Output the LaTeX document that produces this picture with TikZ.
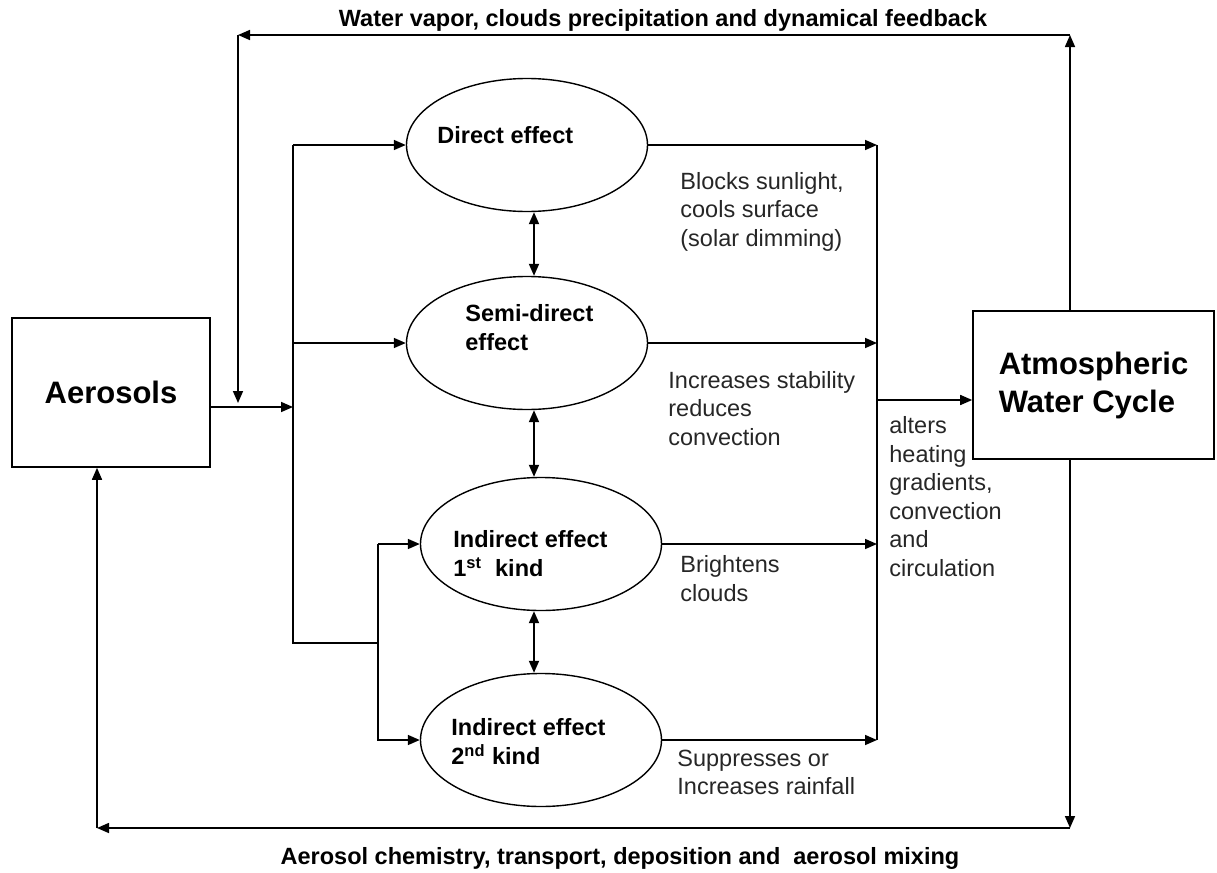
\documentclass[tikz,border=0pt]{standalone}
\usepackage{fontspec}
\setmainfont{Liberation Sans}
\usetikzlibrary{arrows.meta,positioning,shapes.geometric}

\begin{document}
\begin{tikzpicture}[
    x=0.5pt, y=-0.5pt,
    font=\fontsize{11.75}{14.25}\selectfont,
    box/.style={draw, line width=0.8pt, align=left, inner sep=0pt, font=\fontsize{15.5}{19}\selectfont\bfseries},
    effect/.style={ellipse, draw, line width=0.7pt, minimum width=120.5pt, minimum height=66.5pt, inner sep=0pt},
    efflabel/.style={anchor=west, align=left, inner sep=0pt, font=\fontsize{11.75}{14.5}\selectfont\bfseries},
    note/.style={anchor=west, align=left, inner sep=0pt, text=black!85},
    title/.style={inner sep=0pt, font=\fontsize{11.75}{14}\selectfont\bfseries},
    arrow/.style={-{Triangle[length=6pt,width=5pt]}, line width=0.8pt},
    dblarrow/.style={{Triangle[length=6pt,width=5pt]}-{Triangle[length=6pt,width=5pt]}, line width=0.9pt},
    line/.style={line width=0.8pt}
]
\useasboundingbox (0,0) rectangle (1217,873);

% boxes
\node[box, minimum width=99pt, minimum height=74.5pt] (aero) at (111,392.5) {Aerosols};
\node[box, minimum width=120.5pt, minimum height=74pt] (atm) at (1093.5,385) {Atmospheric\\Water Cycle};

% the four effects
\node[effect] (direct) at (527,145) {};
\node[effect] (semi) at (527,343) {};
\node[effect] (indone) at (541,544) {};
\node[effect] (indtwo) at (541,740) {};
\node[efflabel] (directlbl) at (437,135) {Direct effect};
\node[efflabel] (semilbl) at (465,327.5) {Semi-direct\\effect};
\node[efflabel] (indonelbl) at (453,554) {Indirect effect\\1\textsuperscript{st}\ \ kind};
\node[efflabel] (indtwolbl) at (451,742) {Indirect effect\\2\textsuperscript{nd} kind};

% what each effect does
\node[note] (blocks) at (680,211.5) {Blocks sunlight,\\cools surface\\(solar dimming)};
\node[note] (stab) at (668,408.5) {Increases stability\\reduces\\convection};
\node[note] (bright) at (680,578.5) {Brightens\\clouds};
\node[note] (suppr) at (677,772.5) {Suppresses or\\Increases rainfall};
\node[note] (alters) at (889,496.5) {alters\\heating\\gradients,\\convection\\and\\circulation};

\node[title] (fbtop) at (663,20) {Water vapor, clouds precipitation and dynamical feedback};
\node[title] (fbbot) at (620,858) {Aerosol chemistry, transport, deposition and\ \ aerosol mixing};

\coordinate (split) at (293,407);
\coordinate (busb) at (293,643);
\coordinate (busr) at (378,643);
\coordinate (coll) at (877,0);
\coordinate (join) at (877,400);
\coordinate (fbtr) at (1070,35);
\coordinate (fbtl) at (238,35);
\coordinate (fbbr) at (1070,828);
\coordinate (fbbl) at (97,828);
\coordinate (mid) at (534,0);

% aerosols into the effects
\draw[arrow] (aero.east |- split) -- (split);
\draw[line] (direct.west -| split) -- (busb) -- (busr) -- (indone.west -| busr);
\draw[arrow] (direct.west -| split) -- (direct.west);
\draw[arrow] (semi.west -| split) -- (semi.west);
\draw[arrow] (indone.west -| busr) -- (indone.west);
\draw[arrow] (busr) |- (indtwo.west);

\draw[dblarrow] (direct.south -| mid) -- (semi.north -| mid);
\draw[dblarrow] (semi.south -| mid) -- (indone.north -| mid);
\draw[dblarrow] (indone.south -| mid) -- (indtwo.north -| mid);

% effects into the water cycle
\draw[arrow] (direct.east) -- (direct.east -| coll);
\draw[arrow] (semi.east) -- (semi.east -| coll);
\draw[arrow] (indone.east) -- (indone.east -| coll);
\draw[arrow] (indtwo.east) -- (indtwo.east -| coll);
\draw[line] (direct.east -| coll) -- (indtwo.east -| coll);
\draw[arrow] (join) -- (join -| atm.west);

% feedback loops
\draw[arrow] (atm.north -| fbtr) -- (fbtr);
\draw[arrow] (fbtr) -- (fbtl);
\draw[arrow, shorten >=2pt] (fbtl) -- (fbtl |- split);
\draw[arrow] (atm.south -| fbbr) -- (fbbr);
\draw[arrow] (fbbr) -- (fbbl);
\draw[arrow] (fbbl) -- (aero.south -| fbbl);

\end{tikzpicture}
\end{document}
